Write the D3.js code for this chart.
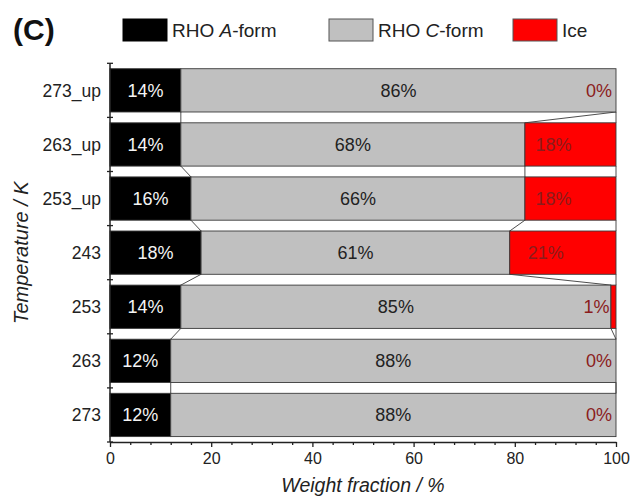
<!DOCTYPE html>
<html>
<head>
<meta charset="utf-8">
<script src="https://cdn.jsdelivr.net/npm/d3@7"></script>
<style>
  body { margin: 0; background: #fff; }
  svg { display: block; font-family: Arial, "Liberation Sans", sans-serif; }
</style>
</head>
<body>
<svg id="chart" width="631" height="499"></svg>
<script>
// Phase composition of RHO samples at each temperature step (weight %)
const temperatures = ["273_up", "263_up", "253_up", "243", "253", "263", "273"];
const aForm = [14, 14, 16, 18, 14, 12, 12];
const cForm = [86, 68, 66, 61, 85, 88, 88];
const ice   = [0, 18, 18, 21, 1, 0, 0];
const seriesNames = ["RHO A-form", "RHO C-form", "Ice"];
const xTicks = [0, 20, 40, 60, 80, 100];

const fills = ["#000000", "#c0c0c0", "#ff0000"];
const labelColors = ["#f4f4f4", "#222222", "#8b1c1c"];
const edge = "#3a3a3a";

const svg = d3.select("#chart");

const x = d3.scaleLinear().domain([0, 100]).range([110, 616]);
const y = d3.scaleBand().domain(temperatures).range([63.3, 442])
  .paddingInner(0.2).paddingOuter(0.1);

// stacked rows
const rows = temperatures.map((t, i) => {
  const vals = [aForm[i], cForm[i], ice[i]];
  let acc = 0;
  const segs = vals.map((v, k) => {
    const s = { k, v, x0: acc, x1: acc + v };
    acc += v;
    return s;
  });
  return { t, segs };
});

// connector lines between neighbouring bars at each phase boundary
const conn = svg.append("g");
for (let i = 0; i < rows.length - 1; i++) {
  const a = rows[i], b = rows[i + 1];
  const yTop = y(a.t) + y.bandwidth();
  const yBot = y(b.t);
  a.segs.forEach((s, k) => {
    conn.append("line")
      .attr("x1", x(s.x1)).attr("y1", yTop)
      .attr("x2", x(b.segs[k].x1)).attr("y2", yBot)
      .attr("stroke", edge).attr("stroke-width", 0.9);
  });
}

// bar segments
const bars = svg.append("g");
rows.forEach(r => {
  bars.selectAll(null).data(r.segs).enter().append("rect")
    .attr("x", d => x(d.x0))
    .attr("y", y(r.t))
    .attr("width", d => x(d.x1) - x(d.x0))
    .attr("height", y.bandwidth())
    .attr("fill", d => fills[d.k])
    .attr("stroke", edge)
    .attr("stroke-width", 0.9);
});

// value labels
rows.forEach(r => {
  bars.selectAll(null).data(r.segs).enter().append("text")
    .attr("x", d => (x(d.x0) + x(d.x1)) / 2 - (d.k === 2 ? 17 : 0))
    .attr("y", y(r.t) + y.bandwidth() / 2)
    .attr("dy", "0.36em")
    .attr("text-anchor", "middle")
    .attr("font-size", 18)
    .attr("fill", d => labelColors[d.k])
    .text(d => d.v + "%");
});

// x axis with major and minor ticks
const xAxisG = svg.append("g").attr("transform", "translate(0,442)");
xAxisG.call(d3.axisBottom(x).tickValues(d3.range(0, 101, 4).filter(v => v % 20 !== 0))
    .tickSize(3).tickSizeOuter(0).tickFormat(""))
  .call(g => g.select(".domain").remove());
xAxisG.append("g").call(d3.axisBottom(x).tickValues(xTicks).tickSize(5).tickSizeOuter(0).tickPadding(6))
  .call(g => g.selectAll("text").attr("font-size", 16).attr("fill", "#222")
    .attr("font-family", "Arial, 'Liberation Sans', sans-serif"));
xAxisG.selectAll("line").attr("stroke", "#222").attr("stroke-width", 1.3);
xAxisG.selectAll(".domain").attr("stroke", "#222").attr("stroke-width", 1.5);

// y axis: line, boundary ticks and category labels
const yr = y.range();
const yAxisG = svg.append("g");
yAxisG.append("line").attr("x1", 110).attr("x2", 110).attr("y1", yr[0]).attr("y2", yr[1])
  .attr("stroke", "#222").attr("stroke-width", 1.5);
const bounds = [yr[0]].concat(temperatures.slice(1).map(t => y(t) - (y.step() - y.bandwidth()) / 2), [yr[1]]);
yAxisG.selectAll(".tk").data(bounds).enter().append("line")
  .attr("x1", 107).attr("x2", 113)
  .attr("y1", d => d).attr("y2", d => d)
  .attr("stroke", "#222").attr("stroke-width", 1.3);
yAxisG.selectAll(".lb").data(temperatures).enter().append("text")
  .attr("x", 101)
  .attr("y", d => y(d) + y.bandwidth() / 2)
  .attr("dy", "0.36em")
  .attr("text-anchor", "end")
  .attr("font-size", 17.5)
  .attr("fill", "#222")
  .text(d => d);

// axis titles
svg.append("text")
  .attr("x", (x.range()[0] + x.range()[1]) / 2).attr("y", 492)
  .attr("text-anchor", "middle").attr("font-size", 19.5).attr("font-style", "italic")
  .attr("fill", "#222").text("Weight fraction / %");
svg.append("text")
  .attr("transform", `translate(28,${(yr[0] + yr[1]) / 2}) rotate(-90)`)
  .attr("text-anchor", "middle").attr("font-size", 20).attr("font-style", "italic")
  .attr("fill", "#222").text("Temperature / K");

// panel letter
svg.append("text").attr("x", 13).attr("y", 40)
  .attr("font-size", 30).attr("font-weight", "bold").attr("fill", "#111").text("(C)");

// legend
const legendX = [123, 329, 513];
const legend = svg.append("g");
seriesNames.forEach((name, k) => {
  const gx = legendX[k];
  legend.append("rect").attr("x", gx).attr("y", 19).attr("width", 44).attr("height", 22)
    .attr("fill", fills[k]).attr("stroke", k === 0 ? "#000" : "#555").attr("stroke-width", 1);
  const t = legend.append("text").attr("x", gx + 49).attr("y", 30).attr("dy", "0.36em")
    .attr("font-size", 19).attr("fill", "#222");
  const m = name.match(/^(RHO )([A-Z])(-form)$/);
  if (m) {
    t.append("tspan").text(m[1]);
    t.append("tspan").attr("font-style", "italic").text(m[2]);
    t.append("tspan").text(m[3]);
  } else {
    t.text(name);
  }
});
</script>
</body>
</html>
